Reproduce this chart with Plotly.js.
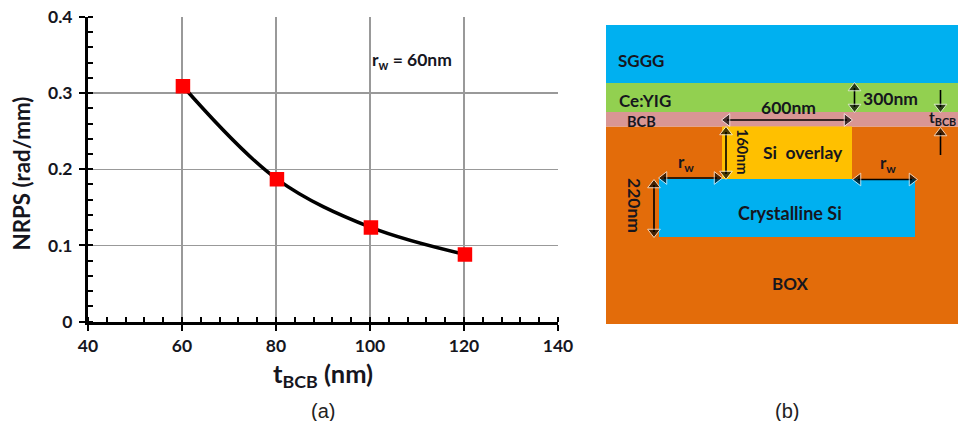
<!DOCTYPE html>
<html><head><meta charset="utf-8">
<script src="https://cdn.plot.ly/plotly-3.0.1.min.js"></script>
<style>html,body{margin:0;padding:0;background:#fff}#c{width:958px;height:421px}</style>
</head><body><div id="c"></div>
<script>
const FONT='Lato, "Open Sans", sans-serif';
const INK='#16161e';
const W=958,H=421;
// chart (a)
const tBCB=[60.2,80.2,100.2,120.2];
const nrps=[0.309,0.187,0.1235,0.088];
const xTicks=[40,60,80,100,120,140];
const yTicks=[0,0.1,0.2,0.3,0.4];
const yTickLabels=['0','0.1','0.2','0.3','0.4'];
// schematic (b): name, x0, x1, y0, y1, colour
const layerNames=['BOX','SGGG','Ce:YIG','BCB','Si overlay','Crystalline Si'];
const layerX0=[606,606,606,606,722,659];
const layerX1=[958,958,958,958,852,915];
const layerY0=[126.5,25,83,112,126.5,179];
const layerY1=[324,83,112,126.5,179,237];
const layerColors=['#e36c0a','#00b0f0','#92d050','#d99694','#ffc000','#00b0f0'];
// schematic labels
const labelText=['SGGG','Ce:YIG','BCB','600nm','160nm','Si\u00a0\u00a0overlay','r<sub>w</sub>','220nm','Crystalline Si','r<sub>w</sub>','300nm','t<sub>BCB</sub>','BOX'];
const labelX=[641,645,641,788,743,803,686,635,790,888,890,942,790];
const labelY=[60,100,121,107,152,152,163,205,213,164,98,118,283];
const labelSize=[17,17,14.5,17.5,14.5,17.5,17,17.5,18,17,17.5,15.5,17];
const labelAngle=[0,0,0,0,90,0,0,90,0,0,0,0,0];
// schematic arrows: marker-centre positions of each end
const arrowX0=[727,726,654,664,858,854.5,940.5,940.5];
const arrowY0=[120,132,185,178,179.5,88,107,133];
const arrowX1=[847,726,654,717,912,854.5,940.5,940.5];
const arrowY1=[120,174,232,178,179.5,107,90,155];
const arrowSym0=['triangle-left','triangle-up','triangle-up','triangle-left','triangle-left','triangle-up','triangle-down','triangle-up'];
const arrowSym1=['triangle-right','triangle-down','triangle-down','triangle-right','triangle-right','triangle-down','line-ew','line-ew'];
const arrowSize1=[11,11,11,11,11,11,0,0];

const annotations=[];
labelText.forEach((t,i)=>annotations.push({xref:'x2',yref:'y2',x:labelX[i],y:labelY[i],text:t,showarrow:false,
  textangle:labelAngle[i],font:{family:FONT,size:labelSize[i],color:INK,weight:700}}));
annotations.push({xref:'x2',yref:'y2',x:412,y:61,text:'r<sub>w</sub> = 60nm',showarrow:false,font:{family:FONT,size:17.5,color:INK,weight:700}});
annotations.push({xref:'x2',yref:'y2',x:21,y:173.5,text:'NRPS (rad/mm)',textangle:-90,showarrow:false,font:{family:FONT,size:22.3,color:INK,weight:700}});
annotations.push({xref:'x2',yref:'y2',x:323,y:411,text:'(a)',showarrow:false,font:{family:'"Liberation Sans",sans-serif',size:20,color:'#222'}});
annotations.push({xref:'x2',yref:'y2',x:787,y:411,text:'(b)',showarrow:false,font:{family:'"Liberation Sans",sans-serif',size:20,color:'#222'}});

const shapes=layerNames.map((n,i)=>({type:'rect',xref:'x2',yref:'y2',x0:layerX0[i],x1:layerX1[i],y0:layerY0[i],y1:layerY1[i],
  fillcolor:layerColors[i],line:{width:0},layer:'below',name:n}));

const data=[{type:'scatter',mode:'lines+markers',x:tBCB,y:nrps,xaxis:'x',yaxis:'y',
  line:{color:'#000',width:3.5,shape:'spline',smoothing:1},
  marker:{symbol:'square',size:14.5,color:'#ff0000'},showlegend:false,hoverinfo:'skip'}];
arrowX0.forEach((x,i)=>data.push({type:'scatter',mode:'lines+markers',xaxis:'x2',yaxis:'y2',
  x:[x,arrowX1[i]],y:[arrowY0[i],arrowY1[i]],line:{color:'#000',width:1.6},
  marker:{symbol:[arrowSym0[i],arrowSym1[i]],size:[11,arrowSize1[i]],color:'#000'},showlegend:false,hoverinfo:'skip'}));

const layout={width:W,height:H,margin:{l:0,r:0,t:0,b:0},paper_bgcolor:'#fff',plot_bgcolor:'rgba(0,0,0,0)',showlegend:false,
  xaxis:{domain:[88/W,558/W],anchor:'y',range:[40,140],tickvals:xTicks,ticks:'outside',ticklen:6,tickwidth:2,tickcolor:'#000',
    showline:true,linecolor:'#000',linewidth:3,showgrid:true,gridcolor:'#999999',gridwidth:1.5,zeroline:false,
    tickfont:{family:FONT,size:17.5,color:INK,weight:700},
    minor:{dtick:4,ticks:'inside',ticklen:5,tickwidth:2,tickcolor:'#000',showgrid:false},
    title:{text:'<b>t<sub>BCB</sub> (nm)</b>',font:{family:FONT,size:25.5,color:INK},standoff:11}},
  yaxis:{domain:[1-321.5/H,1-17/H],anchor:'x',range:[0,0.4],tickvals:yTicks,ticktext:yTickLabels,ticks:'outside',ticklen:6,tickwidth:2,tickcolor:'#000',
    showline:true,linecolor:'#000',linewidth:3,showgrid:true,gridcolor:'#999999',gridwidth:1.5,zeroline:false,ticklabelstandoff:3,
    tickfont:{family:FONT,size:17.5,color:INK,weight:700},
    minor:{dtick:0.02,ticks:'inside',ticklen:5,tickwidth:2,tickcolor:'#000',showgrid:false}},
  xaxis2:{domain:[0,1],anchor:'y2',range:[0,W],visible:false,fixedrange:true},
  yaxis2:{domain:[0,1],anchor:'x2',range:[H,0],visible:false,fixedrange:true},
  shapes:shapes,annotations:annotations};
Plotly.newPlot('c',data,layout,{displayModeBar:false,staticPlot:true});
</script></body></html>
